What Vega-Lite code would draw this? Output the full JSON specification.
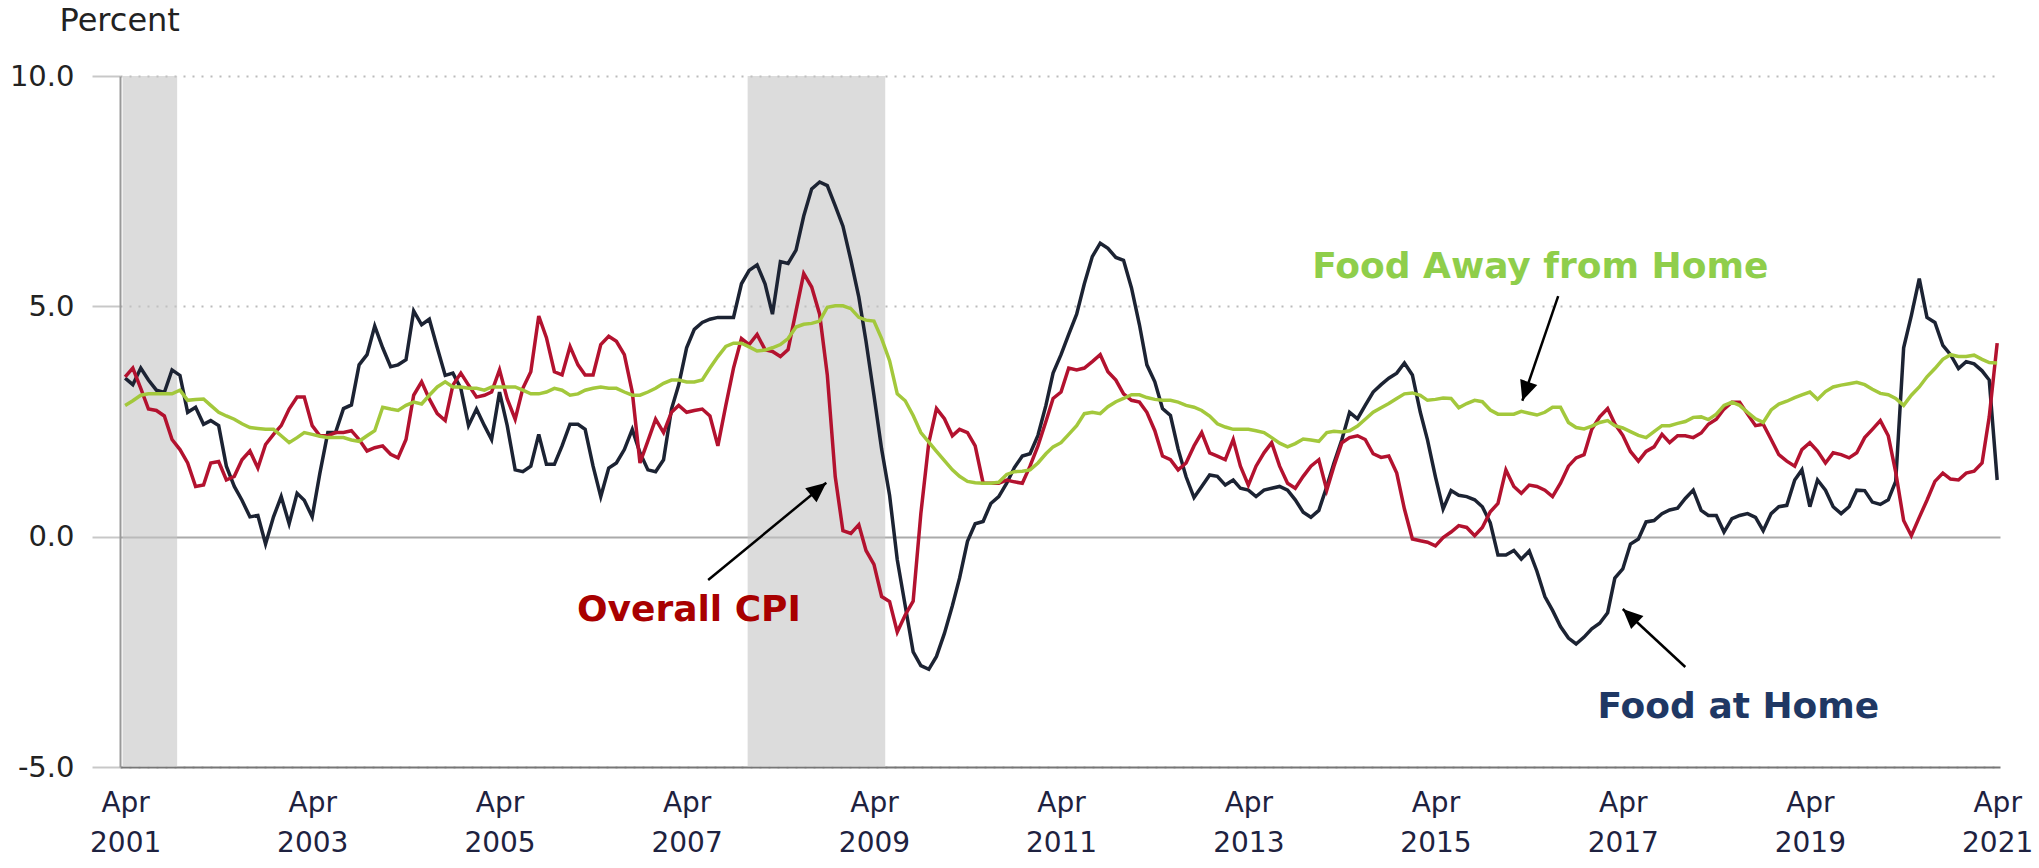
{
"$schema":"https://vega.github.io/schema/vega-lite/v6.json",
"width":1880,"height":691,
"autosize":{"type":"none"},
"padding":{"left":120,"top":76,"right":39,"bottom":101},
"background":"white",
"config":{"view":{"stroke":null},"font":"DejaVu Sans"},
"datasets":{
"series":[
{"date":"2001-04","home":3.44,"cpi":3.47,"away":2.85},
{"date":"2001-05","home":3.3,"cpi":3.66,"away":2.95},
{"date":"2001-06","home":3.66,"cpi":3.22,"away":3.07},
{"date":"2001-07","home":3.4,"cpi":2.77,"away":3.1},
{"date":"2001-08","home":3.18,"cpi":2.74,"away":3.1},
{"date":"2001-09","home":3.13,"cpi":2.62,"away":3.1},
{"date":"2001-10","home":3.62,"cpi":2.11,"away":3.1},
{"date":"2001-11","home":3.5,"cpi":1.89,"away":3.18},
{"date":"2001-12","home":2.7,"cpi":1.6,"away":2.96},
{"date":"2002-01","home":2.81,"cpi":1.09,"away":2.98},
{"date":"2002-02","home":2.44,"cpi":1.12,"away":2.99},
{"date":"2002-03","home":2.52,"cpi":1.6,"away":2.85},
{"date":"2002-04","home":2.41,"cpi":1.63,"away":2.7},
{"date":"2002-05","home":1.53,"cpi":1.23,"away":2.62},
{"date":"2002-06","home":1.09,"cpi":1.31,"away":2.55},
{"date":"2002-07","home":0.79,"cpi":1.67,"away":2.45},
{"date":"2002-08","home":0.43,"cpi":1.86,"away":2.37},
{"date":"2002-09","home":0.46,"cpi":1.49,"away":2.35},
{"date":"2002-10","home":-0.16,"cpi":2.0,"away":2.33},
{"date":"2002-11","home":0.43,"cpi":2.22,"away":2.33},
{"date":"2002-12","home":0.87,"cpi":2.41,"away":2.19},
{"date":"2003-01","home":0.28,"cpi":2.77,"away":2.04},
{"date":"2003-02","home":0.94,"cpi":3.03,"away":2.15},
{"date":"2003-03","home":0.79,"cpi":3.03,"away":2.26},
{"date":"2003-04","home":0.43,"cpi":2.41,"away":2.22},
{"date":"2003-05","home":1.38,"cpi":2.19,"away":2.18},
{"date":"2003-06","home":2.26,"cpi":2.19,"away":2.15},
{"date":"2003-07","home":2.26,"cpi":2.26,"away":2.15},
{"date":"2003-08","home":2.78,"cpi":2.26,"away":2.15},
{"date":"2003-09","home":2.86,"cpi":2.3,"away":2.1},
{"date":"2003-10","home":3.73,"cpi":2.11,"away":2.07},
{"date":"2003-11","home":3.95,"cpi":1.86,"away":2.19},
{"date":"2003-12","home":4.57,"cpi":1.93,"away":2.3},
{"date":"2004-01","home":4.1,"cpi":1.97,"away":2.81},
{"date":"2004-02","home":3.69,"cpi":1.79,"away":2.77},
{"date":"2004-03","home":3.73,"cpi":1.71,"away":2.74},
{"date":"2004-04","home":3.84,"cpi":2.11,"away":2.85},
{"date":"2004-05","home":4.9,"cpi":3.07,"away":2.92},
{"date":"2004-06","home":4.6,"cpi":3.36,"away":2.88},
{"date":"2004-07","home":4.72,"cpi":2.99,"away":3.07},
{"date":"2004-08","home":4.1,"cpi":2.67,"away":3.25},
{"date":"2004-09","home":3.5,"cpi":2.52,"away":3.36},
{"date":"2004-10","home":3.55,"cpi":3.29,"away":3.25},
{"date":"2004-11","home":3.22,"cpi":3.55,"away":3.25},
{"date":"2004-12","home":2.41,"cpi":3.29,"away":3.22},
{"date":"2005-01","home":2.77,"cpi":3.03,"away":3.22},
{"date":"2005-02","home":2.41,"cpi":3.07,"away":3.18},
{"date":"2005-03","home":2.11,"cpi":3.14,"away":3.25},
{"date":"2005-04","home":3.14,"cpi":3.62,"away":3.25},
{"date":"2005-05","home":2.41,"cpi":2.99,"away":3.25},
{"date":"2005-06","home":1.45,"cpi":2.55,"away":3.25},
{"date":"2005-07","home":1.41,"cpi":3.22,"away":3.18},
{"date":"2005-08","home":1.53,"cpi":3.58,"away":3.1},
{"date":"2005-09","home":2.22,"cpi":4.79,"away":3.1},
{"date":"2005-10","home":1.57,"cpi":4.32,"away":3.14},
{"date":"2005-11","home":1.57,"cpi":3.58,"away":3.22},
{"date":"2005-12","home":1.97,"cpi":3.51,"away":3.18},
{"date":"2006-01","home":2.44,"cpi":4.13,"away":3.07},
{"date":"2006-02","home":2.44,"cpi":3.73,"away":3.1},
{"date":"2006-03","home":2.33,"cpi":3.51,"away":3.18},
{"date":"2006-04","home":1.53,"cpi":3.51,"away":3.22},
{"date":"2006-05","home":0.87,"cpi":4.17,"away":3.25},
{"date":"2006-06","home":1.49,"cpi":4.35,"away":3.22},
{"date":"2006-07","home":1.6,"cpi":4.24,"away":3.22},
{"date":"2006-08","home":1.89,"cpi":3.95,"away":3.14},
{"date":"2006-09","home":2.33,"cpi":3.14,"away":3.07},
{"date":"2006-10","home":1.82,"cpi":1.6,"away":3.07},
{"date":"2006-11","home":1.45,"cpi":2.08,"away":3.14},
{"date":"2006-12","home":1.41,"cpi":2.55,"away":3.22},
{"date":"2007-01","home":1.67,"cpi":2.26,"away":3.33},
{"date":"2007-02","home":2.77,"cpi":2.7,"away":3.4},
{"date":"2007-03","home":3.29,"cpi":2.85,"away":3.4},
{"date":"2007-04","home":4.1,"cpi":2.7,"away":3.36},
{"date":"2007-05","home":4.5,"cpi":2.74,"away":3.36},
{"date":"2007-06","home":4.65,"cpi":2.77,"away":3.4},
{"date":"2007-07","home":4.72,"cpi":2.62,"away":3.66},
{"date":"2007-08","home":4.76,"cpi":1.97,"away":3.91},
{"date":"2007-09","home":4.76,"cpi":2.85,"away":4.13},
{"date":"2007-10","home":4.76,"cpi":3.66,"away":4.2},
{"date":"2007-11","home":5.49,"cpi":4.3,"away":4.2},
{"date":"2007-12","home":5.78,"cpi":4.17,"away":4.12},
{"date":"2008-01","home":5.9,"cpi":4.39,"away":4.03},
{"date":"2008-02","home":5.49,"cpi":4.06,"away":4.05},
{"date":"2008-03","home":4.83,"cpi":4.02,"away":4.1},
{"date":"2008-04","home":5.97,"cpi":3.91,"away":4.17},
{"date":"2008-05","home":5.93,"cpi":4.06,"away":4.3},
{"date":"2008-06","home":6.22,"cpi":4.9,"away":4.55},
{"date":"2008-07","home":6.96,"cpi":5.71,"away":4.61},
{"date":"2008-08","home":7.55,"cpi":5.42,"away":4.63},
{"date":"2008-09","home":7.7,"cpi":4.83,"away":4.68},
{"date":"2008-10","home":7.62,"cpi":3.51,"away":4.98},
{"date":"2008-11","home":7.18,"cpi":1.3,"away":5.01},
{"date":"2008-12","home":6.74,"cpi":0.13,"away":5.01},
{"date":"2009-01","home":6.0,"cpi":0.07,"away":4.95},
{"date":"2009-02","home":5.2,"cpi":0.26,"away":4.76},
{"date":"2009-03","home":4.24,"cpi":-0.3,"away":4.7},
{"date":"2009-04","home":3.07,"cpi":-0.6,"away":4.68},
{"date":"2009-05","home":1.9,"cpi":-1.3,"away":4.3},
{"date":"2009-06","home":0.9,"cpi":-1.41,"away":3.82},
{"date":"2009-07","home":-0.5,"cpi":-2.07,"away":3.1},
{"date":"2009-08","home":-1.5,"cpi":-1.7,"away":2.95},
{"date":"2009-09","home":-2.5,"cpi":-1.4,"away":2.63},
{"date":"2009-10","home":-2.8,"cpi":0.5,"away":2.26},
{"date":"2009-11","home":-2.88,"cpi":2.04,"away":2.05},
{"date":"2009-12","home":-2.6,"cpi":2.78,"away":1.85},
{"date":"2010-01","home":-2.1,"cpi":2.56,"away":1.65},
{"date":"2010-02","home":-1.5,"cpi":2.19,"away":1.45},
{"date":"2010-03","home":-0.9,"cpi":2.33,"away":1.31},
{"date":"2010-04","home":-0.1,"cpi":2.26,"away":1.2},
{"date":"2010-05","home":0.28,"cpi":1.97,"away":1.17},
{"date":"2010-06","home":0.33,"cpi":1.16,"away":1.16},
{"date":"2010-07","home":0.72,"cpi":1.16,"away":1.16},
{"date":"2010-08","home":0.87,"cpi":1.16,"away":1.18},
{"date":"2010-09","home":1.16,"cpi":1.23,"away":1.35},
{"date":"2010-10","home":1.5,"cpi":1.19,"away":1.41},
{"date":"2010-11","home":1.75,"cpi":1.16,"away":1.42},
{"date":"2010-12","home":1.8,"cpi":1.53,"away":1.45},
{"date":"2011-01","home":2.2,"cpi":1.97,"away":1.6},
{"date":"2011-02","home":2.85,"cpi":2.5,"away":1.8},
{"date":"2011-03","home":3.55,"cpi":3.0,"away":1.95},
{"date":"2011-04","home":3.95,"cpi":3.14,"away":2.04},
{"date":"2011-05","home":4.39,"cpi":3.66,"away":2.22},
{"date":"2011-06","home":4.83,"cpi":3.62,"away":2.41},
{"date":"2011-07","home":5.49,"cpi":3.66,"away":2.67},
{"date":"2011-08","home":6.08,"cpi":3.8,"away":2.7},
{"date":"2011-09","home":6.37,"cpi":3.95,"away":2.67},
{"date":"2011-10","home":6.26,"cpi":3.58,"away":2.82},
{"date":"2011-11","home":6.06,"cpi":3.4,"away":2.93},
{"date":"2011-12","home":6.0,"cpi":3.1,"away":3.0},
{"date":"2012-01","home":5.4,"cpi":2.96,"away":3.08},
{"date":"2012-02","home":4.6,"cpi":2.92,"away":3.08},
{"date":"2012-03","home":3.73,"cpi":2.7,"away":3.02},
{"date":"2012-04","home":3.36,"cpi":2.3,"away":2.98},
{"date":"2012-05","home":2.78,"cpi":1.75,"away":2.96},
{"date":"2012-06","home":2.63,"cpi":1.67,"away":2.96},
{"date":"2012-07","home":1.9,"cpi":1.45,"away":2.92},
{"date":"2012-08","home":1.3,"cpi":1.6,"away":2.85},
{"date":"2012-09","home":0.85,"cpi":1.97,"away":2.81},
{"date":"2012-10","home":1.09,"cpi":2.26,"away":2.74},
{"date":"2012-11","home":1.34,"cpi":1.82,"away":2.62},
{"date":"2012-12","home":1.31,"cpi":1.75,"away":2.45},
{"date":"2013-01","home":1.12,"cpi":1.67,"away":2.38},
{"date":"2013-02","home":1.23,"cpi":2.11,"away":2.33},
{"date":"2013-03","home":1.05,"cpi":1.53,"away":2.33},
{"date":"2013-04","home":1.01,"cpi":1.12,"away":2.33},
{"date":"2013-05","home":0.87,"cpi":1.53,"away":2.3},
{"date":"2013-06","home":1.01,"cpi":1.82,"away":2.26},
{"date":"2013-07","home":1.05,"cpi":2.04,"away":2.15},
{"date":"2013-08","home":1.09,"cpi":1.53,"away":2.03},
{"date":"2013-09","home":1.01,"cpi":1.16,"away":1.95},
{"date":"2013-10","home":0.8,"cpi":1.05,"away":2.02},
{"date":"2013-11","home":0.53,"cpi":1.31,"away":2.12},
{"date":"2013-12","home":0.42,"cpi":1.53,"away":2.1},
{"date":"2014-01","home":0.57,"cpi":1.67,"away":2.07},
{"date":"2014-02","home":1.09,"cpi":1.01,"away":2.26},
{"date":"2014-03","home":1.6,"cpi":1.53,"away":2.29},
{"date":"2014-04","home":2.11,"cpi":2.04,"away":2.27},
{"date":"2014-05","home":2.7,"cpi":2.15,"away":2.3},
{"date":"2014-06","home":2.56,"cpi":2.19,"away":2.4},
{"date":"2014-07","home":2.85,"cpi":2.11,"away":2.55},
{"date":"2014-08","home":3.14,"cpi":1.8,"away":2.7},
{"date":"2014-09","home":3.3,"cpi":1.72,"away":2.8},
{"date":"2014-10","home":3.44,"cpi":1.75,"away":2.89},
{"date":"2014-11","home":3.55,"cpi":1.38,"away":3.0},
{"date":"2014-12","home":3.77,"cpi":0.6,"away":3.1},
{"date":"2015-01","home":3.51,"cpi":-0.05,"away":3.12},
{"date":"2015-02","home":2.7,"cpi":-0.09,"away":3.07},
{"date":"2015-03","home":2.1,"cpi":-0.12,"away":2.96},
{"date":"2015-04","home":1.3,"cpi":-0.2,"away":2.98},
{"date":"2015-05","home":0.6,"cpi":-0.02,"away":3.01},
{"date":"2015-06","home":1.0,"cpi":0.1,"away":3.0},
{"date":"2015-07","home":0.9,"cpi":0.24,"away":2.8},
{"date":"2015-08","home":0.87,"cpi":0.2,"away":2.89},
{"date":"2015-09","home":0.8,"cpi":0.02,"away":2.96},
{"date":"2015-10","home":0.65,"cpi":0.2,"away":2.93},
{"date":"2015-11","home":0.3,"cpi":0.54,"away":2.75},
{"date":"2015-12","home":-0.4,"cpi":0.72,"away":2.66},
{"date":"2016-01","home":-0.4,"cpi":1.45,"away":2.66},
{"date":"2016-02","home":-0.3,"cpi":1.09,"away":2.66},
{"date":"2016-03","home":-0.49,"cpi":0.94,"away":2.72},
{"date":"2016-04","home":-0.31,"cpi":1.12,"away":2.68},
{"date":"2016-05","home":-0.75,"cpi":1.09,"away":2.64},
{"date":"2016-06","home":-1.3,"cpi":1.01,"away":2.7},
{"date":"2016-07","home":-1.6,"cpi":0.87,"away":2.81},
{"date":"2016-08","home":-1.95,"cpi":1.16,"away":2.81},
{"date":"2016-09","home":-2.2,"cpi":1.53,"away":2.48},
{"date":"2016-10","home":-2.33,"cpi":1.71,"away":2.37},
{"date":"2016-11","home":-2.18,"cpi":1.78,"away":2.34},
{"date":"2016-12","home":-2.0,"cpi":2.33,"away":2.4},
{"date":"2017-01","home":-1.88,"cpi":2.6,"away":2.48},
{"date":"2017-02","home":-1.65,"cpi":2.78,"away":2.52},
{"date":"2017-03","home":-0.9,"cpi":2.45,"away":2.41},
{"date":"2017-04","home":-0.7,"cpi":2.2,"away":2.36},
{"date":"2017-05","home":-0.16,"cpi":1.85,"away":2.28},
{"date":"2017-06","home":-0.05,"cpi":1.64,"away":2.2},
{"date":"2017-07","home":0.32,"cpi":1.85,"away":2.15},
{"date":"2017-08","home":0.35,"cpi":1.95,"away":2.28},
{"date":"2017-09","home":0.5,"cpi":2.22,"away":2.41},
{"date":"2017-10","home":0.58,"cpi":2.04,"away":2.41},
{"date":"2017-11","home":0.62,"cpi":2.19,"away":2.46},
{"date":"2017-12","home":0.83,"cpi":2.19,"away":2.5},
{"date":"2018-01","home":1.01,"cpi":2.15,"away":2.59},
{"date":"2018-02","home":0.57,"cpi":2.25,"away":2.6},
{"date":"2018-03","home":0.46,"cpi":2.44,"away":2.54},
{"date":"2018-04","home":0.46,"cpi":2.55,"away":2.66},
{"date":"2018-05","home":0.1,"cpi":2.77,"away":2.85},
{"date":"2018-06","home":0.39,"cpi":2.92,"away":2.92},
{"date":"2018-07","home":0.46,"cpi":2.92,"away":2.85},
{"date":"2018-08","home":0.5,"cpi":2.66,"away":2.7},
{"date":"2018-09","home":0.42,"cpi":2.41,"away":2.56},
{"date":"2018-10","home":0.13,"cpi":2.44,"away":2.48},
{"date":"2018-11","home":0.5,"cpi":2.11,"away":2.75},
{"date":"2018-12","home":0.65,"cpi":1.78,"away":2.88},
{"date":"2019-01","home":0.68,"cpi":1.64,"away":2.94},
{"date":"2019-02","home":1.23,"cpi":1.53,"away":3.02},
{"date":"2019-03","home":1.45,"cpi":1.89,"away":3.08},
{"date":"2019-04","home":0.65,"cpi":2.04,"away":3.14},
{"date":"2019-05","home":1.23,"cpi":1.86,"away":2.98},
{"date":"2019-06","home":1.01,"cpi":1.6,"away":3.15},
{"date":"2019-07","home":0.65,"cpi":1.82,"away":3.25},
{"date":"2019-08","home":0.5,"cpi":1.78,"away":3.29},
{"date":"2019-09","home":0.65,"cpi":1.71,"away":3.32},
{"date":"2019-10","home":1.01,"cpi":1.82,"away":3.35},
{"date":"2019-11","home":1.0,"cpi":2.15,"away":3.3},
{"date":"2019-12","home":0.75,"cpi":2.33,"away":3.2},
{"date":"2020-01","home":0.7,"cpi":2.52,"away":3.11},
{"date":"2020-02","home":0.8,"cpi":2.19,"away":3.08},
{"date":"2020-03","home":1.2,"cpi":1.4,"away":3.0},
{"date":"2020-04","home":4.1,"cpi":0.35,"away":2.85},
{"date":"2020-05","home":4.8,"cpi":0.02,"away":3.07},
{"date":"2020-06","home":5.6,"cpi":0.42,"away":3.25},
{"date":"2020-07","home":4.76,"cpi":0.79,"away":3.47},
{"date":"2020-08","home":4.65,"cpi":1.2,"away":3.65},
{"date":"2020-09","home":4.15,"cpi":1.38,"away":3.85},
{"date":"2020-10","home":3.95,"cpi":1.25,"away":3.95},
{"date":"2020-11","home":3.65,"cpi":1.23,"away":3.91},
{"date":"2020-12","home":3.8,"cpi":1.38,"away":3.91},
{"date":"2021-01","home":3.75,"cpi":1.42,"away":3.94},
{"date":"2021-02","home":3.6,"cpi":1.6,"away":3.85},
{"date":"2021-03","home":3.4,"cpi":2.6,"away":3.78},
{"date":"2021-04","home":1.23,"cpi":4.2,"away":3.77}
],
"recessions":[
{"start":"2001-03-22","end":"2001-10-21"},
{"start":"2007-11-25","end":"2009-05-15"}
],
"labels":[
{"label":"Food Away from Home","date":"2016-05-14","value":5.85},
{"label":"Overall CPI","date":"2007-04-10","value":-1.6},
{"label":"Food at Home","date":"2018-06-26","value":-3.7}
],
"arrows":[
{"label":"Food Away from Home","date":"2016-07-23","value":5.22,"date2":"2016-03-05","value2":2.95},
{"label":"Food at Home","date":"2017-12-01","value":-2.83,"date2":"2017-04-01","value2":-1.57},
{"label":"Overall CPI","date":"2007-06-24","value":-0.94,"date2":"2008-09-27","value2":1.17}
]
},
"layer":[
{"data":{"name":"recessions"},
 "mark":{"type":"rect","color":"#c4c4c4","opacity":0.6,"clip":true},
 "encoding":{
  "x":{"field":"start","type":"temporal","title":null},
  "x2":{"field":"end"}
 }},
{"data":{"name":"series"},
 "transform":[{"fold":["home","cpi","away"],"as":["series","pct"]}],
 "mark":{"type":"line","strokeWidth":3.5},
 "encoding":{
  "x":{"field":"date","type":"temporal","title":null,
   "scale":{"type":"utc","domain":[{"year":2001,"month":3,"date":12,"utc":true},{"year":2021,"month":4,"date":12,"utc":true}]},
   "axis":{"values":[
     {"year":2001,"month":4,"date":1,"utc":true},{"year":2003,"month":4,"date":1,"utc":true},
     {"year":2005,"month":4,"date":1,"utc":true},{"year":2007,"month":4,"date":1,"utc":true},
     {"year":2009,"month":4,"date":1,"utc":true},{"year":2011,"month":4,"date":1,"utc":true},
     {"year":2013,"month":4,"date":1,"utc":true},{"year":2015,"month":4,"date":1,"utc":true},
     {"year":2017,"month":4,"date":1,"utc":true},{"year":2019,"month":4,"date":1,"utc":true},
     {"year":2021,"month":4,"date":1,"utc":true}],
    "labelExpr":"[utcFormat(datum.value,'%b'), utcFormat(datum.value,'%Y')]",
    "labelFontSize":28,"labelLineHeight":40,"labelColor":"#1e2240","labelPadding":22,
    "ticks":false,"tickSize":0,"grid":false,"domainColor":"#777777","domainWidth":2,
    "labelFlush":false,"labelOverlap":false,"labelBaseline":"top"}},
  "y":{"field":"pct","type":"quantitative","title":"Percent","scale":{"domain":[-5,10],"nice":false,"zero":false},
   "axis":{"values":[-5,0,5,10],"labelExpr":"replace(format(datum.value,'.1f'),'\u2212','-')","title":"Percent","titleAngle":0,"titleAlign":"left",
    "titleBaseline":"top","titleX":-61,"titleY":-71,"titleFontSize":32,"titleFontWeight":"normal","titleColor":"#222222",
    "labelFontSize":29,"labelColor":"#222222","labelPadding":18,"tickSize":28,"tickColor":"#c8c8c8","tickWidth":2,
    "domainColor":"#999999","domainWidth":2,"grid":true,
    "gridColor":{"condition":{"test":"datum.value === 0","value":"#aaaaaa"},"value":"#bbbbbb"},
    "gridDash":{"condition":{"test":"datum.value === 0","value":[]},"value":[2,7]},
    "gridWidth":2}},
  "color":{"field":"series","type":"nominal","scale":{"domain":["home","cpi","away"],"range":["#1c2333","#b3122f","#a3c83c"]},"legend":null}
 }},
{"data":{"name":"labels"},
 "mark":{"type":"text","fontSize":36,"fontWeight":"bold","align":"center","baseline":"middle","font":"DejaVu Sans"},
 "encoding":{
  "x":{"field":"date","type":"temporal","title":null},
  "y":{"field":"value","type":"quantitative"},
  "text":{"field":"label"},
  "color":{"field":"label","type":"nominal","scale":{"domain":["Food Away from Home","Overall CPI","Food at Home"],"range":["#8fce4b","#a80000","#1f3864"]},"legend":null}
 }},
{"data":{"name":"arrows"},
 "mark":{"type":"rule","strokeWidth":2.5,"color":"#000000"},
 "encoding":{
  "x":{"field":"date","type":"temporal","title":null},
  "y":{"field":"value","type":"quantitative"},
  "x2":{"field":"date2"},
  "y2":{"field":"value2"}
 }},
{"data":{"name":"arrows"},
 "transform":[{"filter":"datum.label === 'Food Away from Home'"}],
 "mark":{"type":"point","shape":"M0,0L-0.5,1.1L0.5,1.1Z","filled":true,"color":"#000000","opacity":1,"size":1300,"angle":199,"strokeWidth":0},
 "encoding":{"x":{"field":"date2","type":"temporal","title":null},"y":{"field":"value2","type":"quantitative"}}},
{"data":{"name":"arrows"},
 "transform":[{"filter":"datum.label === 'Food at Home'"}],
 "mark":{"type":"point","shape":"M0,0L-0.5,1.1L0.5,1.1Z","filled":true,"color":"#000000","opacity":1,"size":1300,"angle":313,"strokeWidth":0},
 "encoding":{"x":{"field":"date2","type":"temporal","title":null},"y":{"field":"value2","type":"quantitative"}}},
{"data":{"name":"arrows"},
 "transform":[{"filter":"datum.label === 'Overall CPI'"}],
 "mark":{"type":"point","shape":"M0,0L-0.5,1.1L0.5,1.1Z","filled":true,"color":"#000000","opacity":1,"size":1300,"angle":51,"strokeWidth":0},
 "encoding":{"x":{"field":"date2","type":"temporal","title":null},"y":{"field":"value2","type":"quantitative"}}}
],
"resolve":{"scale":{"color":"independent"}}
}
